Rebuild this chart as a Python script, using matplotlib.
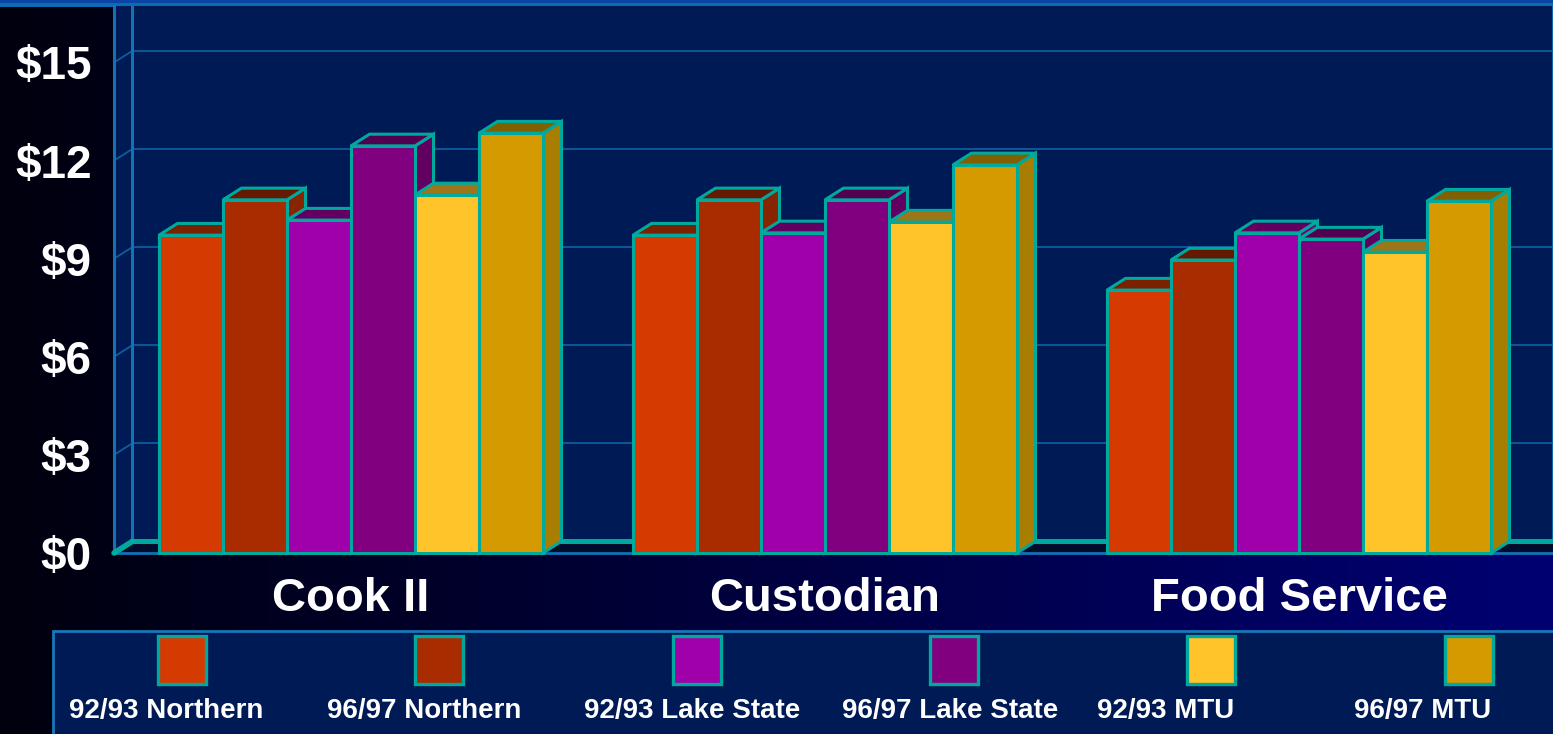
import numpy as np
import matplotlib
matplotlib.use("Agg")
import matplotlib.pyplot as plt
from matplotlib.patches import Polygon, Rectangle
from matplotlib.colors import LinearSegmentedColormap

# ---------------- data ----------------
categories = ["Cook II", "Custodian", "Food Service"]
series_names = ["92/93 Northern", "96/97 Northern", "92/93 Lake State",
                "96/97 Lake State", "92/93 MTU", "96/97 MTU"]
northern_9293 = [9.72, 9.72, 8.04]
northern_9697 = [10.80, 10.80, 8.96]
lake_state_9293 = [10.18, 9.79, 9.79]
lake_state_9697 = [12.45, 10.80, 9.60]
mtu_9293 = [10.95, 10.12, 9.20]
mtu_9697 = [12.84, 11.87, 10.76]
y_ticks = [0, 3, 6, 9, 12, 15]
y_tick_labels = ["\\$0", "\\$3", "\\$6", "\\$9", "\\$12", "\\$15"]

series_values = [northern_9293, northern_9697, lake_state_9293,
                 lake_state_9697, mtu_9293, mtu_9697]

# ---------------- style ----------------
face_c = ["#D53A00", "#A82C00", "#A000AA", "#800080", "#FFC42A", "#D49A00"]
top_c = ["#7A2200", "#641A00", "#620062", "#520052", "#9C7618", "#806000"]
side_c = ["#952800", "#882400", "#7A0082", "#620062", "#C89A20", "#A87E00"]
teal = "#00A99D"
wall_c = "#001A55"
grid_c = "#0D5E9C"
wall_line_c = "#1272B4"
floor_c = "#000C2C"

plt.rcParams["font.family"] = ["Liberation Sans", "DejaVu Sans"]
plt.rcParams["font.weight"] = "bold"

W, H = 1553, 734
fig = plt.figure(figsize=(W / 100, H / 100), dpi=100)

# layout in pixels
AX_L, AX_R, AX_B, AX_T = 114, 1553, 553, 6
GROUP0_PX, GROUP_PX = 351, 474
PX_PER_DOLLAR = 32.7
BAR_PX = 64
DEPTH_X_PX, DEPTH_Y_PX = 18.5, 11.7

# ---------------- background layer ----------------
bg = fig.add_axes([0, 0, 1, 1], zorder=0)
bg.set_xlim(0, W)
bg.set_ylim(H, 0)
bg.axis("off")
cmap = LinearSegmentedColormap.from_list("bgc", ["#00000E", "#000072"])
bg.imshow(np.linspace(0, 1, 256)[None, :], extent=[0, W, H, 0], cmap=cmap,
          aspect="auto", zorder=0)
bg.add_patch(Rectangle((0, 0), W, 2.5, fc="#0A44A4", ec="none", zorder=1.1))
bg.add_patch(Rectangle((0, 2.5), W, 4.5, fc="#0C6CB2", ec="none", zorder=1))

# legend box
bg.add_patch(Rectangle((53, 631), W, 120, fc=wall_c, ec="#1878B8", lw=2, zorder=2))
swatch_cx = [182, 439, 697, 954, 1211, 1469]
label_cx = [166, 424, 692, 950, 1166, 1423]
for i, name in enumerate(series_names):
    bg.add_patch(Rectangle((swatch_cx[i] - 24, 636), 48, 48, fc=face_c[i],
                           ec=teal, lw=2.4, zorder=3))
    bg.text(label_cx[i], 711, name, ha="center", va="center", fontsize=20,
            fontweight="bold", color="white", zorder=3)

# ---------------- main axes ----------------
ax = fig.add_axes([AX_L / W, (H - AX_B) / H, (AX_R - AX_L) / W, (AX_B - AX_T) / H],
                  zorder=1)
ax.patch.set_visible(False)
x0 = (AX_L - GROUP0_PX) / GROUP_PX
x1 = (AX_R - GROUP0_PX) / GROUP_PX
ymax = (AX_B - AX_T) / PX_PER_DOLLAR
ax.set_xlim(x0, x1)
ax.set_ylim(0, ymax)
for sp in ax.spines.values():
    sp.set_visible(False)

w = BAR_PX / GROUP_PX
dx = DEPTH_X_PX / GROUP_PX
dy = DEPTH_Y_PX / PX_PER_DOLLAR

# walls
ax.add_patch(Polygon([(x0, 0), (x0 + dx, dy), (x0 + dx, ymax), (x0, ymax)],
                     fc=wall_c, ec="none", zorder=1))
ax.add_patch(Rectangle((x0 + dx, dy), x1 - x0, ymax, fc=wall_c, ec="none", zorder=1))
ax.add_patch(Polygon([(x0, 0), (x1, 0), (x1 + dx, dy), (x0 + dx, dy)],
                     fc=floor_c, ec="none", zorder=1))
for v in y_ticks[1:]:
    ax.plot([x0 + dx, x1], [v + dy, v + dy], color=grid_c, lw=1.3, zorder=2)
    ax.plot([x0, x0 + dx], [v, v + dy], color=grid_c, lw=1.3, zorder=2)
ax.plot([x0, x0], [0, ymax], color=wall_line_c, lw=2.2, zorder=2, clip_on=False)
ax.plot([x0 + dx, x0 + dx], [dy, ymax], color=wall_line_c, lw=2.2, zorder=2)
ax.plot([x1 - 0.001, x1 - 0.001], [dy, ymax], color=wall_line_c, lw=2, zorder=2)
ax.plot([x0, x1], [0, 0], color=wall_line_c, lw=2, zorder=2, clip_on=False)
ax.plot([x0 + dx, x1], [dy, dy], color=teal, lw=3.6, zorder=2)
ax.plot([x0, x0 + dx], [0, dy], color=teal, lw=4, zorder=2,
        solid_capstyle="round", clip_on=False)

# bars
n = len(series_values)
z = 3
for g in range(len(categories)):
    for s in range(n):
        v = series_values[s][g]
        xl = g + (s - n / 2) * w
        kw = dict(ec=teal, lw=2.2, joinstyle="miter", clip_on=False)
        ax.add_patch(Polygon([(xl + w, 0), (xl + w + dx, dy), (xl + w + dx, v + dy),
                              (xl + w, v)], fc=side_c[s], zorder=z, **kw))
        ax.add_patch(Polygon([(xl, v), (xl + w, v), (xl + w + dx, v + dy),
                              (xl + dx, v + dy)], fc=top_c[s], zorder=z + 0.1, **kw))
        ax.add_patch(Rectangle((xl, 0), w, v, fc=face_c[s], zorder=z + 0.2, **kw))
        z += 1

# ticks
ax.set_yticks(y_ticks)
ax.set_yticklabels(y_tick_labels, fontsize=33, fontweight="bold", color="white")
ax.tick_params(axis="y", length=0, pad=16)
ax.set_xticks(range(len(categories)))
ax.set_xticklabels(categories, fontsize=34, fontweight="bold", color="white")
ax.tick_params(axis="x", length=0, pad=17)

fig.savefig("out.png", dpi=100, facecolor="black")
